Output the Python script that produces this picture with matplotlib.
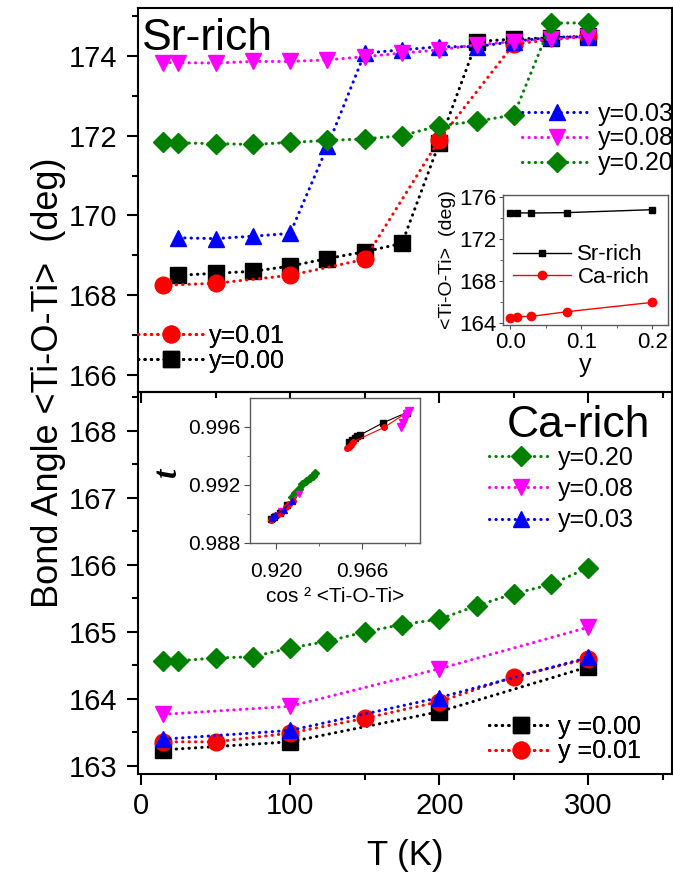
import matplotlib.pyplot as plt
from matplotlib.ticker import MultipleLocator

plt.rcParams['font.family'] = ['Liberation Sans', 'DejaVu Sans']

# ---- data ----
T_all = [15, 25, 50, 75, 100, 125, 150, 175, 200, 225, 250, 275, 300]
T_25 = [25, 50, 75, 100, 125, 150, 175, 200, 225, 250, 275, 300]
T_50 = [15, 50, 100, 150, 200, 250, 300]
T_100 = [15, 100, 200, 300]

# Sr-rich (top panel)
sr_y000 = [168.50, 168.55, 168.60, 168.73, 168.92, 169.09, 169.30, 171.82, 174.36, 174.42, 174.45, 174.50]
sr_y001 = [168.25, 168.30, 168.50, 168.90, 171.90, 174.30, 174.50]
sr_y003 = [169.44, 169.42, 169.48, 169.55, 171.73, 174.07, 174.15, 174.23, 174.23, 174.36, 174.47, 174.48]
sr_y008 = [173.83, 173.83, 173.82, 173.86, 173.86, 173.90, 173.98, 174.07, 174.15, 174.28, 174.36, 174.42, 174.48]
sr_y020 = [171.83, 171.82, 171.80, 171.78, 171.83, 171.88, 171.92, 172.00, 172.25, 172.36, 172.52, 174.82, 174.83]

# Ca-rich (bottom panel)
ca_y000 = [163.24, 163.36, 163.81, 164.48]
ca_y001 = [163.36, 163.36, 163.49, 163.71, 163.96, 164.33, 164.60]
ca_y003 = [163.40, 163.53, 164.02, 164.62]
ca_y008 = [163.77, 163.89, 164.45, 165.07]
ca_y020 = [164.57, 164.57, 164.61, 164.63, 164.76, 164.86, 165.00, 165.11, 165.19, 165.39, 165.57, 165.71, 165.96]

# inset 1: angle at 300 K vs y
y_comp = [0.0, 0.01, 0.03, 0.08, 0.20]
ins_sr = [174.50, 174.50, 174.48, 174.52, 174.80]
ins_ca = [164.48, 164.60, 164.62, 165.07, 165.96]

# inset 2: tolerance factor t vs cos^2 <Ti-O-Ti>
c_blk_ca = [0.9175, 0.9190, 0.9220, 0.9260]
t_blk_ca = [0.98965, 0.98980, 0.99010, 0.99065]
c_red_ca = [0.9175, 0.9185, 0.9205, 0.9225, 0.9255, 0.9270, 0.9290]
t_red_ca = [0.98960, 0.98970, 0.98990, 0.99010, 0.99050, 0.99070, 0.99090]
c_blu_ca = [0.9180, 0.9195, 0.9240, 0.9285]
t_blu_ca = [0.98970, 0.98990, 0.99030, 0.99090]
c_mag_ca = [0.9195, 0.9225, 0.9265, 0.9320]
t_mag_ca = [0.98985, 0.99020, 0.99065, 0.99140]
c_grn_ca = [0.9285, 0.9300, 0.9320, 0.9340, 0.9360, 0.9380, 0.9395, 0.9410]
t_grn_ca = [0.99120, 0.99145, 0.99175, 0.99205, 0.99230, 0.99250, 0.99265, 0.99280]
c_red_sr = [0.9578, 0.9590, 0.9600, 0.9614, 0.9779, 0.9900]
t_red_sr = [0.99453, 0.99465, 0.99478, 0.99499, 0.99598, 0.99700]
c_blk_sr = [0.9590, 0.9605, 0.9620, 0.9635, 0.9649, 0.9774, 0.9900]
t_blk_sr = [0.99500, 0.99512, 0.99525, 0.99535, 0.99545, 0.99630, 0.99700]
c_mag_sr = [0.9870, 0.9880, 0.9892, 0.9902, 0.9910]
t_mag_sr = [0.99600, 0.99625, 0.99660, 0.99690, 0.99710]

W, H = 673, 875
def fx(p): return p / W
def fy(p): return 1 - p / H

fig = plt.figure(figsize=(6.73, 8.75), dpi=100)

ax1 = fig.add_axes([fx(138), fy(392), fx(672) - fx(138), fy(8) - fy(392)])
ax2 = fig.add_axes([fx(138), fy(774), fx(672) - fx(138), fy(392) - fy(774)])
ax2.set_facecolor('none')

dot = dict(linestyle=(0, (0.1, 2.0)), lw=2.2, dash_capstyle='round')
sty = {
    'k': dict(color='black', marker='s', ms=11),
    'r': dict(color='red', marker='o', ms=12),
    'b': dict(color='blue', marker='^', ms=12),
    'm': dict(color='magenta', marker='v', ms=12),
    'g': dict(color='green', marker='D', ms=10),
}

h1 = {}
h1['k'], = ax1.plot(T_25, sr_y000, **dot, **sty['k'])
h1['r'], = ax1.plot(T_50, sr_y001, **dot, **sty['r'])
h1['b'], = ax1.plot(T_25, sr_y003, **dot, **sty['b'])
h1['m'], = ax1.plot(T_all, sr_y008, **dot, **sty['m'])
h1['g'], = ax1.plot(T_all, sr_y020, **dot, **sty['g'])

h2 = {}
h2['k'], = ax2.plot(T_100, ca_y000, **dot, **sty['k'])
h2['r'], = ax2.plot(T_50, ca_y001, **dot, **sty['r'])
h2['b'], = ax2.plot(T_100, ca_y003, **dot, **sty['b'])
h2['m'], = ax2.plot(T_100, ca_y008, **dot, **sty['m'])
h2['g'], = ax2.plot(T_all, ca_y020, **dot, **sty['g'])

for ax in (ax1, ax2):
    ax.set_xlim(-2, 356)
    ax.xaxis.set_major_locator(MultipleLocator(100))
    ax.xaxis.set_minor_locator(MultipleLocator(50))
    for s in ax.spines.values():
        s.set_linewidth(1.5)
    ax.tick_params(which='both', direction='out', width=1.5, labelsize=21)
    ax.tick_params(which='major', length=8)
    ax.tick_params(which='minor', length=4)
    ax.tick_params(axis='y', pad=7)
    ax.tick_params(axis='x', pad=5)

ax1.set_ylim(165.575, 175.2)
ax1.yaxis.set_major_locator(MultipleLocator(2))
ax1.yaxis.set_minor_locator(MultipleLocator(1))
ax1.tick_params(axis='x', labelbottom=False)

ax2.set_ylim(162.88, 168.58)
ax2.yaxis.set_major_locator(MultipleLocator(1))
ax2.yaxis.set_minor_locator(MultipleLocator(0.5))

def legend(ax, hs, labels, x, yc, spacing, hl=2.7, pad=0.25):
    leg = ax.legend(hs, labels, loc='center left', bbox_to_anchor=(fx(x), fy(yc)),
                    bbox_transform=fig.transFigure, frameon=False, borderpad=0,
                    borderaxespad=0, handlelength=hl, handletextpad=pad,
                    labelspacing=spacing, fontsize=18, numpoints=1)
    ax.add_artist(leg)

legend(ax1, [h1['b'], h1['m'], h1['g']], ['y=0.03', 'y=0.08', 'y=0.20'], 522, 138.5, 0.03, hl=2.8)
legend(ax1, [h1['r'], h1['k']], ['y=0.01', 'y=0.00'], 138, 348.5, 0.05, hl=2.6)
legend(ax2, [h2['g'], h2['m'], h2['b']], ['y=0.20', 'y=0.08', 'y=0.03'], 489, 489, 0.29, hl=2.55, pad=0.2)
legend(ax2, [h2['k'], h2['r']], ['y =0.00', 'y =0.01'], 489, 739, 0.03, hl=2.55, pad=0.2)

fig.text(fx(142), fy(50), 'Sr-rich', fontsize=32, ha='left', va='baseline')
fig.text(fx(507), fy(437), 'Ca-rich', fontsize=32, ha='left', va='baseline')

fig.text(fx(49), fy(383), 'Bond Angle <Ti-O-Ti>  (deg)', rotation=90, ha='center', va='center',
         fontsize=26)
fig.text(fx(405), fy(855), 'T (K)', ha='center', va='center', fontsize=25)

# inset 1
ins1 = fig.add_axes([fx(503), fy(325), fx(668) - fx(503), fy(195) - fy(325)])
ins1.plot(y_comp, ins_sr, '-s', color='black', lw=1, ms=5, label='Sr-rich')
ins1.plot(y_comp, ins_ca, '-o', color='red', lw=1, ms=6, label='Ca-rich')
ins1.set_xlim(-0.01, 0.222)
ins1.set_ylim(163.8, 176.2)
ins1.xaxis.set_major_locator(MultipleLocator(0.1))
ins1.xaxis.set_minor_locator(MultipleLocator(0.05))
ins1.yaxis.set_major_locator(MultipleLocator(4))
ins1.yaxis.set_minor_locator(MultipleLocator(2))
ins1.tick_params(which='both', direction='out', labelsize=16, pad=2, color='0.3')
ins1.tick_params(which='major', length=3)
ins1.tick_params(which='minor', length=2)
for s in ins1.spines.values():
    s.set_color('0.35')
    s.set_linewidth(1)
ins1.set_ylabel('<Ti-O-Ti>  (deg)', fontsize=14, labelpad=2)
ins1.set_xlabel('y', fontsize=18, labelpad=0)
ins1.legend(loc='center left', bbox_to_anchor=(fx(513), fy(266)), bbox_transform=fig.transFigure,
            frameon=False, borderpad=0, borderaxespad=0, handlelength=2.6, handletextpad=0.3,
            labelspacing=0.05, fontsize=16, numpoints=1)

# inset 2
ins2 = fig.add_axes([fx(250), fy(543), fx(420) - fx(250), fy(398) - fy(543)])
small = dict(lw=0.8, ms=4)
ins2.plot(c_grn_ca, t_grn_ca, '-D', color='green', **small)
ins2.plot(c_mag_ca, t_mag_ca, '-v', color='magenta', **small)
ins2.plot(c_blk_ca, t_blk_ca, '-s', color='black', **small)
ins2.plot(c_red_ca, t_red_ca, '-o', color='red', **small)
ins2.plot(c_blu_ca, t_blu_ca, '-^', color='blue', **small)
ins2.plot(c_blk_sr, t_blk_sr, '-s', color='black', **small)
ins2.plot(c_red_sr, t_red_sr, '-o', color='red', **small)
ins2.plot(c_mag_sr, t_mag_sr, '-v', color='magenta', lw=0.8, ms=6)
ins2.set_xlim(0.906, 0.997)
ins2.set_ylim(0.988, 0.998)
ins2.set_xticks([0.920, 0.966])
ins2.set_xticks([0.943, 0.989], minor=True)
ins2.set_yticks([0.988, 0.992, 0.996])
ins2.set_yticks([0.990, 0.994], minor=True)
ins2.tick_params(which='both', direction='out', labelsize=15, pad=3, color='0.3')
ins2.tick_params(axis='x', pad=10)
ins2.tick_params(which='major', length=4)
ins2.tick_params(which='minor', length=2.5)
for s in ins2.spines.values():
    s.set_color('0.35')
    s.set_linewidth(1)
ins2.set_xlabel('cos ² <Ti-O-Ti>', fontsize=15, labelpad=4)
fig.text(fx(167), fy(472), 't', rotation=90, ha='center', va='center', fontsize=24,
         family='Liberation Serif', style='italic', weight='bold')

fig.savefig('out.png', dpi=100)
